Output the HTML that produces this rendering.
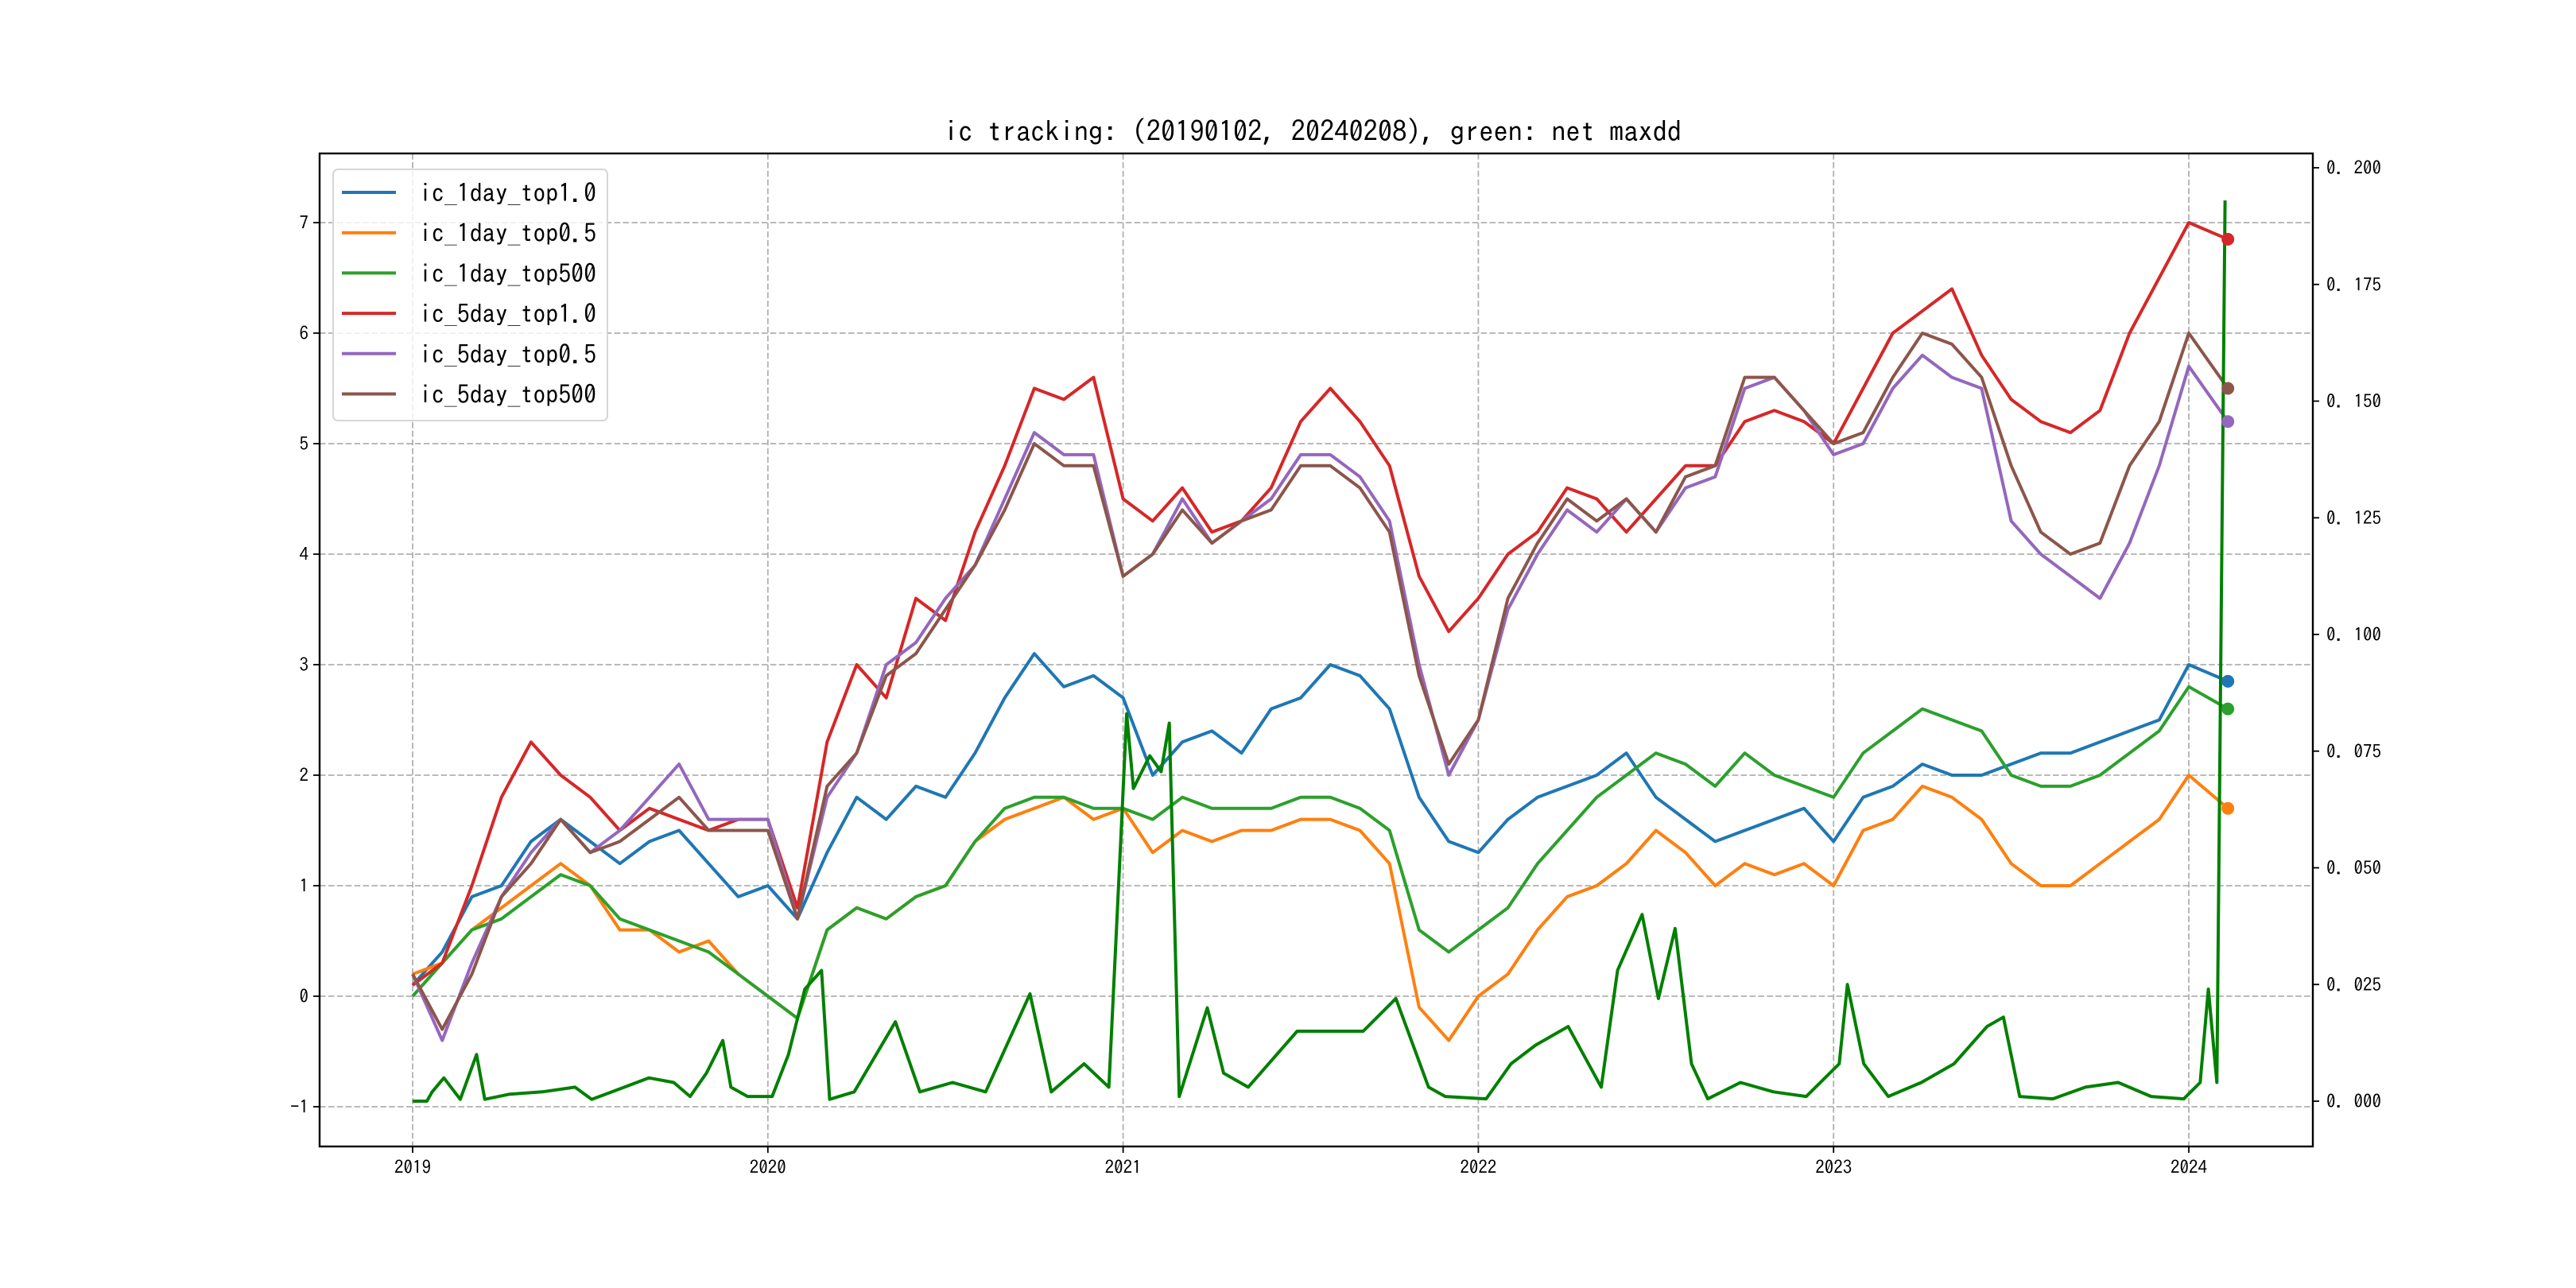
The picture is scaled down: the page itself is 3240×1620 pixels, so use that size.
<!DOCTYPE html>
<html><head><meta charset="utf-8"><style>
html,body{margin:0;padding:0;background:#fff}
svg{display:block}
text{font-family:"IPAGothic","WenQuanYi Zen Hei","Noto Sans CJK SC",sans-serif;fill:#000}
</style></head><body>
<svg id="chart" width="3240" height="1620" viewBox="0 0 3240 1620" xmlns="http://www.w3.org/2000/svg">
<rect width="3240" height="1620" fill="#fff"/>
<g id="grid"></g>
<g id="series"></g>
<rect x="402" y="193" width="2507" height="1249" fill="none" stroke="#000" stroke-width="2.4"/>
<g id="axes"></g>
<text x="1187" y="178" font-size="36" textLength="928" lengthAdjust="spacingAndGlyphs">ic tracking: (20190102, 20240208), green: net maxdd</text>
<g id="legend"></g>
</svg>
<script>
const xTicks = [2019, 2020, 2021, 2022, 2023, 2024];
const yLeftTicks = [-1, 0, 1, 2, 3, 4, 5, 6, 7];
const yRightTicks = [0, 0.025, 0.05, 0.075, 0.1, 0.125, 0.15, 0.175, 0.2];
const yRightLabels = ["0. 000","0. 025","0. 050","0. 075","0. 100","0. 125","0. 150","0. 175","0. 200"];
const seriesNames = ["ic_1day_top1.0","ic_1day_top0.5","ic_1day_top500","ic_5day_top1.0","ic_5day_top0.5","ic_5day_top500"];
const lastDate = 2024.11;
const ic1dTop10 = [0.1,0.4,0.9,1.0,1.4,1.6,1.4,1.2,1.4,1.5,1.2,0.9, 1.0,0.7,1.3,1.8,1.6,1.9,1.8,2.2,2.7,3.1,2.8,2.9, 2.7,2.0,2.3,2.4,2.2,2.6,2.7,3.0,2.9,2.6,1.8,1.4, 1.3,1.6,1.8,1.9,2.0,2.2,1.8,1.6,1.4,1.5,1.6,1.7, 1.4,1.8,1.9,2.1,2.0,2.0,2.1,2.2,2.2,2.3,2.4,2.5, 3.0,2.85];
const ic1dTop05 = [0.2,0.3,0.6,0.8,1.0,1.2,1.0,0.6,0.6,0.4,0.5,0.2, 0.0,-0.2,0.6,0.8,0.7,0.9,1.0,1.4,1.6,1.7,1.8,1.6, 1.7,1.3,1.5,1.4,1.5,1.5,1.6,1.6,1.5,1.2,-0.1,-0.4, 0.0,0.2,0.6,0.9,1.0,1.2,1.5,1.3,1.0,1.2,1.1,1.2, 1.0,1.5,1.6,1.9,1.8,1.6,1.2,1.0,1.0,1.2,1.4,1.6, 2.0,1.7];
const ic1dTop500 = [0.0,0.3,0.6,0.7,0.9,1.1,1.0,0.7,0.6,0.5,0.4,0.2, 0.0,-0.2,0.6,0.8,0.7,0.9,1.0,1.4,1.7,1.8,1.8,1.7, 1.7,1.6,1.8,1.7,1.7,1.7,1.8,1.8,1.7,1.5,0.6,0.4, 0.6,0.8,1.2,1.5,1.8,2.0,2.2,2.1,1.9,2.2,2.0,1.9, 1.8,2.2,2.4,2.6,2.5,2.4,2.0,1.9,1.9,2.0,2.2,2.4, 2.8,2.6];
const ic5dTop10 = [0.1,0.3,1.0,1.8,2.3,2.0,1.8,1.5,1.7,1.6,1.5,1.6, 1.6,0.8,2.3,3.0,2.7,3.6,3.4,4.2,4.8,5.5,5.4,5.6, 4.5,4.3,4.6,4.2,4.3,4.6,5.2,5.5,5.2,4.8,3.8,3.3, 3.6,4.0,4.2,4.6,4.5,4.2,4.5,4.8,4.8,5.2,5.3,5.2, 5.0,5.5,6.0,6.2,6.4,5.8,5.4,5.2,5.1,5.3,6.0,6.5, 7.0,6.85];
const ic5dTop05 = [0.2,-0.4,0.3,0.9,1.3,1.6,1.3,1.5,1.8,2.1,1.6,1.6, 1.6,0.7,1.8,2.2,3.0,3.2,3.6,3.9,4.5,5.1,4.9,4.9, 3.8,4.0,4.5,4.1,4.3,4.5,4.9,4.9,4.7,4.3,3.0,2.0, 2.5,3.5,4.0,4.4,4.2,4.5,4.2,4.6,4.7,5.5,5.6,5.3, 4.9,5.0,5.5,5.8,5.6,5.5,4.3,4.0,3.8,3.6,4.1,4.8, 5.7,5.2];
const ic5dTop500 = [0.2,-0.3,0.2,0.9,1.2,1.6,1.3,1.4,1.6,1.8,1.5,1.5, 1.5,0.7,1.9,2.2,2.9,3.1,3.5,3.9,4.4,5.0,4.8,4.8, 3.8,4.0,4.4,4.1,4.3,4.4,4.8,4.8,4.6,4.2,2.9,2.1, 2.5,3.6,4.1,4.5,4.3,4.5,4.2,4.7,4.8,5.6,5.6,5.3, 5.0,5.1,5.6,6.0,5.9,5.6,4.8,4.2,4.0,4.1,4.8,5.2, 6.0,5.5];
const maxddDates = [2019.00,2019.04,2019.055,2019.088,2019.134,2019.18,2019.203,2019.273,2019.365,2019.457,2019.504,2019.596,2019.665,2019.735,2019.781,2019.827,2019.873,2019.896,2019.943,2020.012,2020.058,2020.104,2020.151,2020.174,2020.243,2020.359,2020.428,2020.52,2020.613,2020.738,2020.798,2020.89,2020.96,2020.996,2021.01,2021.029,2021.075,2021.107,2021.13,2021.158,2021.237,2021.283,2021.352,2021.49,2021.676,2021.768,2021.86,2021.907,2022.022,2022.092,2022.161,2022.253,2022.346,2022.392,2022.461,2022.507,2022.554,2022.60,2022.646,2022.738,2022.831,2022.923,2023.016,2023.039,2023.085,2023.154,2023.247,2023.339,2023.432,2023.478,2023.524,2023.617,2023.709,2023.801,2023.894,2023.986,2024.032,2024.055,2024.079,2024.102];
const maxddValues = [0,0,0.002,0.005,0.0004,0.010,0.0004,0.0015,0.002,0.003,0.0004,0.003,0.005,0.004,0.001,0.006,0.013,0.003,0.001,0.001,0.010,0.024,0.028,0.0004,0.002,0.017,0.002,0.004,0.002,0.023,0.002,0.008,0.003,0.06,0.083,0.067,0.074,0.0706,0.081,0.001,0.020,0.006,0.003,0.015,0.015,0.022,0.003,0.001,0.0005,0.008,0.012,0.016,0.003,0.028,0.040,0.022,0.037,0.008,0.0005,0.004,0.002,0.001,0.008,0.025,0.008,0.001,0.004,0.008,0.016,0.018,0.001,0.0005,0.003,0.004,0.001,0.0005,0.004,0.024,0.004,0.193];

const X0=519, PXY=446.8, YL0=1253, PXL=139, YR0=1385, PXR=146.75/0.025;
const xs = d => X0 + (d-2019)*PXY;
const yl = v => YL0 - v*PXL;
const yr = v => YR0 - v*PXR;
const NS='http://www.w3.org/2000/svg';
function mk(tag, attrs, parent){const e=document.createElementNS(NS,tag);for(const k in attrs)e.setAttribute(k,attrs[k]);parent.appendChild(e);return e;}
const grid=document.getElementById('grid'), axes=document.getElementById('axes'), ser=document.getElementById('series'), leg=document.getElementById('legend');
const dash={stroke:'#b0b0b0','stroke-width':1.8,'stroke-dasharray':'7.6,3.3'};
xTicks.forEach(t=>{
  const x=xs(t);
  const g=mk('line',Object.assign({x1:x,x2:x,y1:193,y2:1442},dash),grid);
  
  
  const tk=mk('line',{x1:x,x2:x,y1:1442,y2:1450,stroke:'#000','stroke-width':1.8},axes);
  
  
  const tx=mk('text',{x:x,y:1476,'font-size':23,'text-anchor':'middle'},axes);
  
  
  tx.textContent=String(t);
});
yLeftTicks.forEach(t=>{
  const y=yl(t);
  const g=mk('line',Object.assign({x1:402,x2:2909,y1:y,y2:y},dash),grid);
  
  
  const tk=mk('line',{x1:394,x2:402,y1:y,y2:y,stroke:'#000','stroke-width':1.8},axes);
  
  
  const tx=mk('text',{x:388,y:y+8,'font-size':23,'text-anchor':'end'},axes);
  
  
  tx.textContent=String(t);
});
yRightTicks.forEach((t,i)=>{
  const y=yr(t);
  const tk=mk('line',{x1:2909,x2:2917,y1:y,y2:y,stroke:'#000','stroke-width':1.8},axes);
  
  
  const tx=mk('text',{x:2926,y:y+8,'font-size':23},axes);
  
  
  tx.textContent=yRightLabels[i];
});
const colors=['#1f77b4','#ff7f0e','#2ca02c','#d62728','#9467bd','#8c564b'];
const all=[ic1dTop10,ic1dTop05,ic1dTop500,ic5dTop10,ic5dTop05,ic5dTop500];
const dateAt=i=> i===61?lastDate:2019+i/12;
all.forEach((arr,si)=>{
  const d=arr.map((v,i)=>(i?'L':'M')+xs(dateAt(i)).toFixed(1)+','+yl(v).toFixed(1)).join('');
  const p=mk('path',{d:d,fill:'none',stroke:colors[si],'stroke-width':4,'stroke-linejoin':'round'},ser);
  
  
});
const md=maxddDates.map((t,i)=>(i?'L':'M')+xs(t).toFixed(1)+','+yr(maxddValues[i]).toFixed(1)).join('');
const mp=mk('path',{d:md,fill:'none',stroke:'#008000','stroke-width':4,'stroke-linejoin':'round'},ser);


all.forEach((arr,si)=>{
  const c=mk('circle',{cx:xs(lastDate),cy:yl(arr[arr.length-1]),r:8,fill:colors[si]},ser);
  
  
});
const box=mk('rect',{x:419,y:213,width:345,height:316,rx:6,fill:'#fff','fill-opacity':0.8,stroke:'#d6d6d6','stroke-width':2},leg);


seriesNames.forEach((n,i)=>{
  const y=242+i*50.7;
  const l=mk('line',{x1:430,x2:498,y1:y,y2:y,stroke:colors[i],'stroke-width':4},leg);
  
  
  const t=mk('text',{x:527,y:y+12,'font-size':32,textLength:223,lengthAdjust:'spacingAndGlyphs'},leg);
  
  
  t.textContent=n;
});
</script>
</body></html>
